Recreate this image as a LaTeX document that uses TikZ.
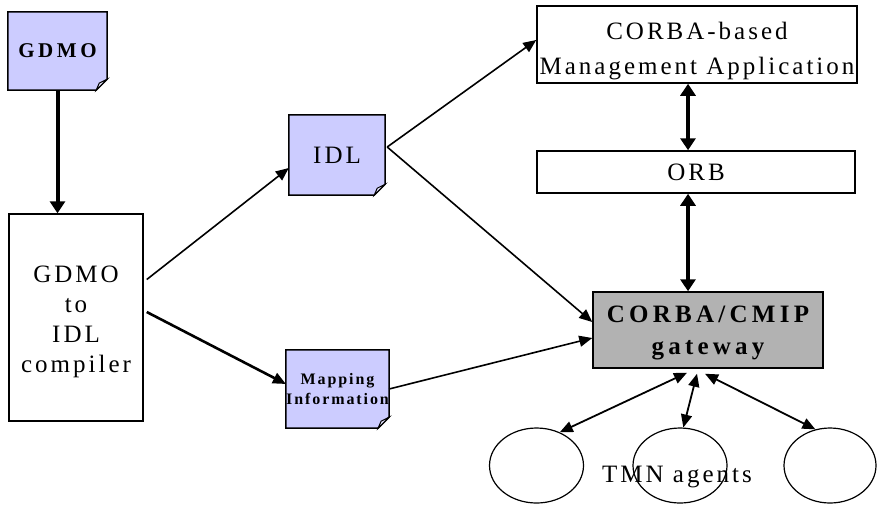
\documentclass[tikz,border=0pt]{standalone}
\usepackage{fontspec}
\setmainfont{Liberation Serif}
\newfontfamily\lsfont[LetterSpace=12]{Liberation Serif}
\newfontfamily\lsbold[LetterSpace=17]{Liberation Serif}
\usetikzlibrary{arrows.meta,backgrounds,shapes.geometric}

\definecolor{docblue}{RGB}{204,204,255}
\definecolor{docpale}{RGB}{228,228,255}
\definecolor{gwgray}{RGB}{178,178,178}

\tikzstyle{box} = [draw, line width=1.5pt, align=center, inner sep=0pt,
                   font=\lsfont\fontsize{25}{30}\selectfont]
\tikzstyle{doc} = [align=center, inner sep=0pt]
\tikzstyle{agent} = [draw, ellipse, line width=1.2pt, inner sep=0pt,
                     minimum width=94pt, minimum height=75pt]
\tikzstyle{flow} = [line width=1.6pt, -{Triangle[length=13pt,width=11pt]}]
\tikzstyle{fatboth} = [line width=4pt, {Triangle[length=12pt,width=15pt]}-{Triangle[length=12pt,width=15pt]}]
\tikzstyle{both} = [line width=1.8pt, {Triangle[length=13pt,width=11pt]}-{Triangle[length=13pt,width=11pt]}]
\def\fold{11pt}
% strut that lowers the first line of a box
\newcommand\lead[1]{\rule{0pt}{#1}}

% document outline with dog-ear, drawn behind the text
\newcommand\docframe[1]{%
    \filldraw[fill=docblue, line width=1.5pt]
        (#1.north west) -- (#1.north east) -- ([yshift=\fold]#1.south east)
        -- ([xshift=-\fold]#1.south east) -- (#1.south west) -- cycle;
    \filldraw[fill=docpale, line width=1pt]
        ([yshift=\fold]#1.south east) -- ([xshift=-8pt,yshift=7pt]#1.south east)
        -- ([xshift=-\fold]#1.south east) -- cycle;}

\begin{document}
\begin{tikzpicture}[x=1pt, y=-1pt]
        \useasboundingbox (0,0) rectangle (877,504);
        % documents
        \node[doc, minimum width=99pt, minimum height=78pt,
              font=\lsbold\bfseries\fontsize{21}{24}\selectfont] (gdmo) at (57.5,51) {GDMO};
        \node[doc, minimum width=96pt, minimum height=80pt,
              font=\lsfont\fontsize{25}{30}\selectfont] (idl) at (337,155) {IDL};
        \node[doc, minimum width=97pt, minimum height=78pt,
              font=\lsfont\bfseries\fontsize{16}{20}\selectfont] (map) at (337.5,389) {Mapping\\Information};
        % boxes
        \node[box, minimum width=134pt, minimum height=207pt] (comp) at (76,317.5)
              {\lead{24.5pt}GDMO\\to\\IDL\\compiler};
        \node[box, minimum width=320pt, minimum height=77pt,
              font=\lsfont\fontsize{25}{35}\selectfont] (app) at (697,44.5)
              {\lead{31pt}CORBA-based\\Management Application};
        \node[box, minimum width=318pt, minimum height=42pt] (orb) at (696,172) {ORB};
        \node[box, fill=gwgray, minimum width=230pt, minimum height=76pt,
              font=\lsbold\bfseries\fontsize{25}{32}\selectfont] (gw) at (708,330)
              {\lead{23pt}CORBA/CMIP\\gateway};
        % agents
        \node[agent] (ag1) at (536.5,465.5) {};
        \node[agent] (ag2) at (680,465.5) {};
        \node[agent, minimum width=92pt] (ag3) at (830,465.5) {};
        \node[font=\lsfont\fontsize{25}{30}\selectfont] (tmn) at (677,477) {TMN agents};

        \begin{scope}[on background layer]
            \docframe{gdmo}
            \docframe{idl}
            \docframe{map}
        \end{scope}

        % Draw edges
        \draw[line width=4pt, -{Triangle[length=12pt,width=15pt]}] (gdmo.south) -- (gdmo.south |- comp.north);
        \draw[flow] ([xshift=3pt,yshift=38pt]comp.east) -- ([yshift=-13pt]idl.west);
        \draw[flow, line width=2.6pt] ([xshift=3pt,yshift=5.5pt]comp.east) -- ([yshift=5pt]map.west);
        \draw[flow] ([xshift=2pt,yshift=8pt]idl.east) -- ([yshift=4.5pt]app.west);
        \draw[flow] ([xshift=2pt,yshift=8pt]idl.east) -- ([yshift=8pt]gw.west);
        \draw[flow] (map.east) -- ([yshift=-8pt]gw.west);
        \draw[fatboth] ([xshift=-9pt]app.south) -- ([xshift=-8pt]orb.north);
        \draw[fatboth] ([xshift=-8pt]orb.south) -- ([xshift=-20pt]gw.north);
        \draw[both] ([xshift=-21pt,yshift=-4pt]gw.south) -- (ag1.55);
        \draw[both] ([xshift=-11pt,yshift=-5pt]gw.south) -- (ag2.85);
        \draw[both] ([xshift=-3pt,yshift=-5pt]gw.south) -- (ag3.112);
\end{tikzpicture}
\end{document}
